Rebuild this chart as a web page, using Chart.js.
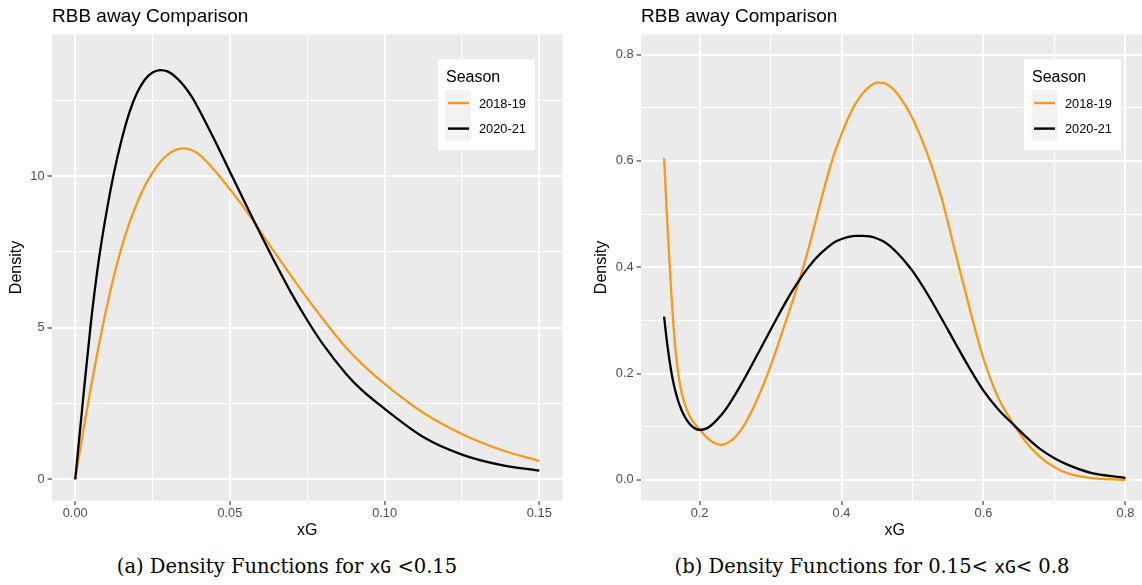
<!DOCTYPE html>
<html>
<head>
<meta charset="utf-8">
<script src="https://cdn.jsdelivr.net/npm/chart.js@4.4.1/dist/chart.umd.min.js"></script>
<style>
  html, body { margin: 0; padding: 0; background: #fff; width: 1142px; height: 585px; overflow: hidden; position: relative; }
  #c1 { position: absolute; left: 0; top: 0; }
  #c2 { position: absolute; left: 575px; top: 0; }
  .cap { position: absolute; top: 555px; font-family: "DejaVu Serif", "Liberation Serif", serif; font-size: 19.5px; line-height: 24px; color: #000; white-space: nowrap; transform: translateX(-50%); }
  .cap code { font-family: "DejaVu Sans Mono", "Liberation Mono", monospace; font-size: 18px; }
</style>
</head>
<body>
<canvas id="c1" width="570" height="545"></canvas>
<canvas id="c2" width="581" height="545"></canvas>
<div class="cap" style="left:287px">(a) Density Functions for <code>xG</code> &lt;0.15</div>
<div class="cap" style="left:872px">(b) Density Functions for 0.15&lt; <code>xG</code>&lt; 0.8</div>
<script>
// seasons (legend order)
const seasons = ['2018-19', '2020-21'];

// left plot: xG < 0.15
const xgLow = [0, 0.0025, 0.005, 0.0075, 0.01, 0.0125, 0.015, 0.0175, 0.02, 0.0225, 0.025, 0.0275, 0.03, 0.0325,
  0.035, 0.0375, 0.04, 0.045, 0.05, 0.055, 0.0625, 0.07, 0.075, 0.08, 0.0875, 0.0925, 0.1, 0.1125, 0.125, 0.1375, 0.15];
const dens1819Low = [0, 1.55, 3.0, 4.35, 5.6, 6.7, 7.65, 8.45, 9.12, 9.68, 10.12, 10.47, 10.72, 10.87,
  10.92, 10.87, 10.72, 10.2, 9.57, 8.9, 7.78, 6.68, 5.97, 5.3, 4.35, 3.83, 3.15, 2.2, 1.5, 0.98, 0.61];
const dens2021Low = [0, 2.6, 5.1, 7.15, 8.75, 10.1, 11.2, 12.1, 12.75, 13.18, 13.42, 13.5, 13.45, 13.27,
  13.0, 12.65, 12.2, 11.2, 10.15, 9.1, 7.57, 6.12, 5.25, 4.47, 3.49, 2.96, 2.33, 1.4, 0.82, 0.48, 0.29];

// right plot: 0.15 < xG < 0.8
const xgHigh = [0.15, 0.155, 0.16, 0.165, 0.17, 0.175, 0.18, 0.185, 0.19,
  0.2, 0.21, 0.22, 0.23, 0.24, 0.25, 0.26, 0.27, 0.28, 0.29,
  0.3, 0.31, 0.32, 0.33, 0.34, 0.35, 0.36, 0.37, 0.38, 0.39,
  0.4, 0.41, 0.42, 0.43, 0.44, 0.45, 0.46, 0.47, 0.48, 0.49, 0.5,
  0.52, 0.54, 0.56, 0.58, 0.6, 0.62, 0.64, 0.66, 0.68, 0.7, 0.72, 0.75, 0.8];
const dens1819High = [0.605, 0.472, 0.355, 0.262, 0.2, 0.163, 0.14, 0.123, 0.111,
  0.095, 0.08, 0.07, 0.066, 0.07, 0.08, 0.097, 0.12, 0.148, 0.179,
  0.214, 0.252, 0.292, 0.332, 0.373, 0.418, 0.468, 0.52, 0.57, 0.614,
  0.65, 0.682, 0.708, 0.727, 0.74, 0.747, 0.746, 0.738, 0.724, 0.704, 0.68,
  0.617, 0.535, 0.43, 0.325, 0.228, 0.157, 0.11, 0.071, 0.043, 0.024, 0.012, 0.004, 0.0];
const dens2021High = [0.307, 0.25, 0.205, 0.172, 0.148, 0.13, 0.117, 0.107, 0.1,
  0.094, 0.097, 0.107, 0.121, 0.139, 0.16, 0.183, 0.207, 0.232, 0.257,
  0.282, 0.307, 0.331, 0.354, 0.375, 0.394, 0.411, 0.425, 0.437, 0.447,
  0.453, 0.457, 0.459, 0.459, 0.458, 0.454, 0.448, 0.438, 0.425, 0.41, 0.393,
  0.352, 0.306, 0.258, 0.211, 0.168, 0.134, 0.107, 0.081, 0.058, 0.041, 0.028, 0.014, 0.004];

// tick labels
const xTicksLow = [0, 0.05, 0.10, 0.15];
const xLabelsLow = ['0.00', '0.05', '0.10', '0.15'];
const yTicksLow = [0, 5, 10];
const yLabelsLow = ['0', '5', '10'];
const xTicksHigh = [0.2, 0.4, 0.6, 0.8];
const xLabelsHigh = ['0.2', '0.4', '0.6', '0.8'];
const yTicksHigh = [0, 0.2, 0.4, 0.6, 0.8];
const yLabelsHigh = ['0.0', '0.2', '0.4', '0.6', '0.8'];

const colors = { '2018-19': '#F29B1F', '2020-21': '#000000' };
const SANS = '"Liberation Sans", Arial, sans-serif';

// major ticks + ggplot style minor ticks between them
function withMinor(majors, min, max) {
  const step = majors[1] - majors[0];
  const out = majors.map(v => ({ value: v, minor: false }));
  for (let v = majors[0] - step / 2; v <= majors[majors.length - 1] + step / 2 + 1e-9; v += step) {
    out.push({ value: v, minor: true });
  }
  return out.filter(t => t.value >= min && t.value <= max).sort((a, b) => a.value - b.value);
}

function labelFor(v, majors, labels) {
  const i = majors.findIndex(m => Math.abs(m - v) < 1e-9);
  return i < 0 ? '' : labels[i];
}

const ggDecor = {
  id: 'ggDecor',
  beforeDraw(chart) {
    const { ctx, chartArea: a } = chart;
    ctx.save();
    ctx.fillStyle = '#EBEBEB';
    ctx.fillRect(a.left, a.top, a.right - a.left, a.bottom - a.top);
    ctx.restore();
  },
  afterDraw(chart) {
    const { ctx, chartArea: a } = chart;
    ctx.save();
    // title
    ctx.fillStyle = '#000';
    ctx.font = '19px ' + SANS;
    ctx.textBaseline = 'alphabetic';
    ctx.textAlign = 'left';
    ctx.fillText('RBB away Comparison', a.left, 22);

    // legend inside panel
    const boxW = 97, boxH = 91;
    const bx = a.right - 27.5 - boxW, by = 59.3;
    ctx.fillStyle = '#fff';
    ctx.fillRect(bx, by, boxW, boxH);
    ctx.fillStyle = '#000';
    ctx.font = '16px ' + SANS;
    ctx.fillText('Season', bx + 8, by + 22.3);
    ctx.fillStyle = '#F2F2F2';
    ctx.fillRect(bx + 7.5, by + 30.7, 25.5, 50.7);
    seasons.forEach((s, i) => {
      const cy = by + 43.7 + i * 25.6;
      ctx.strokeStyle = colors[s];
      ctx.lineWidth = 2.4;
      ctx.beginPath();
      ctx.moveTo(bx + 10, cy);
      ctx.lineTo(bx + 31, cy);
      ctx.stroke();
      ctx.fillStyle = '#000';
      ctx.font = '12.8px ' + SANS;
      ctx.fillText(s, bx + 41, cy + 4.6);
    });
    ctx.restore();
  }
};

function makeChart(id, xs, d1819, d2021, xr, yr, xMaj, xLab, yMaj, yLab, yWidth, yTitlePad, rightPad) {
  const toPts = ys => xs.map((x, i) => ({ x: x, y: ys[i] }));
  const grid = {
    color: '#FFFFFF',
    lineWidth: c => (c.tick && c.tick.minor ? 1.1 : 2),
    tickColor: c => (c.tick && c.tick.minor ? 'rgba(0,0,0,0)' : '#333333'),
    tickLength: 4.4,
    tickWidth: 1.1
  };
  return new Chart(document.getElementById(id), {
    type: 'line',
    data: {
      datasets: [
        { label: '2020-21', data: toPts(d2021), borderColor: colors['2020-21'] },
        { label: '2018-19', data: toPts(d1819), borderColor: colors['2018-19'] }
      ]
    },
    options: {
      responsive: false,
      animation: false,
      layout: { padding: { top: 34.3, left: 0, right: rightPad, bottom: 0 } },
      elements: {
        line: { borderWidth: 2.3, cubicInterpolationMode: 'monotone', fill: false },
        point: { radius: 0, hoverRadius: 0 }
      },
      plugins: { legend: { display: false }, tooltip: { enabled: false }, title: { display: false } },
      scales: {
        x: {
          type: 'linear',
          min: xr[0], max: xr[1],
          bounds: 'data',
          afterBuildTicks: s => { s.ticks = withMinor(xMaj, xr[0], xr[1]); },
          afterFit: s => { s.height = 44.3; },
          ticks: {
            autoSkip: false, maxRotation: 0, padding: 0.5,
            color: '#4D4D4D', font: { family: SANS, size: 12.8 },
            callback: v => labelFor(v, xMaj, xLab)
          },
          grid: grid,
          border: { display: false },
          title: { display: true, text: 'xG', color: '#000', font: { family: SANS, size: 16 }, padding: { top: 0, bottom: 4.7 } }
        },
        y: {
          type: 'linear',
          min: yr[0], max: yr[1],
          bounds: 'data',
          afterBuildTicks: s => { s.ticks = withMinor(yMaj, yr[0], yr[1]); },
          afterFit: s => { s.width = yWidth; },
          ticks: {
            autoSkip: false, padding: 3,
            color: '#4D4D4D', font: { family: SANS, size: 12.8 },
            callback: v => labelFor(v, yMaj, yLab)
          },
          grid: grid,
          border: { display: false },
          title: { display: true, text: 'Density', color: '#000', font: { family: SANS, size: 16 }, padding: { top: yTitlePad, bottom: 0 } }
        }
      }
    },
    plugins: [ggDecor]
  });
}

makeChart('c1', xgLow, dens1819Low, dens2021Low, [-0.0075, 0.1575], [-0.7, 14.68],
  xTicksLow, xLabelsLow, yTicksLow, yLabelsLow, 52, 7.4, 7.5);
makeChart('c2', xgHigh, dens1819High, dens2021High, [0.1175, 0.8325], [-0.039, 0.838],
  xTicksHigh, xLabelsHigh, yTicksHigh, yLabelsHigh, 66, 17.4, 7.5);
</script>
</body>
</html>
